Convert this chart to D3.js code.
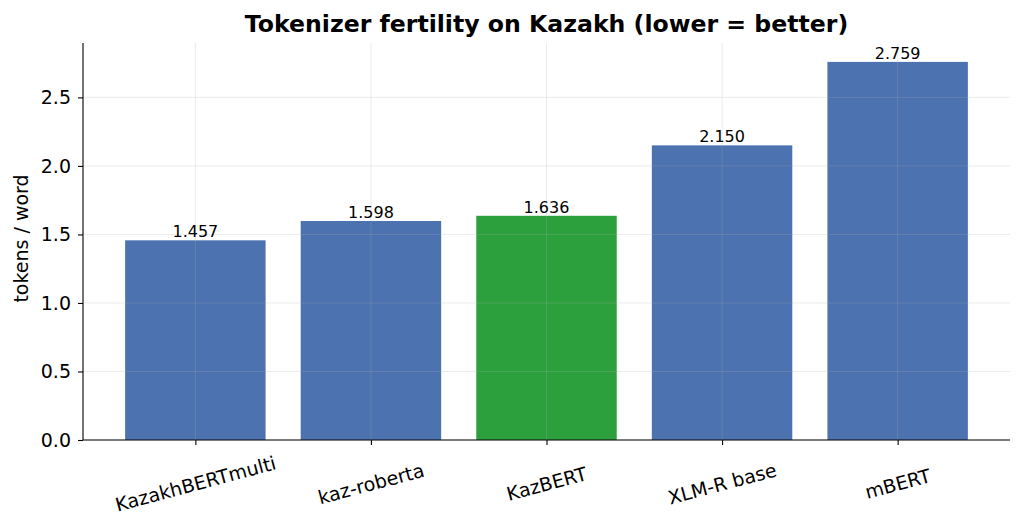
<!DOCTYPE html>
<html><head><meta charset="utf-8">
<script src="https://cdn.jsdelivr.net/npm/d3@7"></script>
<style>body{margin:0;background:#fff}svg{display:block;font-family:"DejaVu Sans",sans-serif}</style>
</head><body>
<svg id="c" width="1023" height="529"></svg>
<script>
const categories = ["KazakhBERTmulti","kaz-roberta","KazBERT","XLM-R base","mBERT"];
const values = [1.457,1.598,1.636,2.150,2.759];
const labels = ["1.457","1.598","1.636","2.150","2.759"];
const highlight = ["KazBERT"];
const yTicks = [0,0.5,1.0,1.5,2.0,2.5];

const svg = d3.select("#c");
const L=83,R=1010,T=43,B=440;
const x = d3.scaleLinear().domain([-0.64,categories.length-1+0.64]).range([L,R]);
const y = d3.scaleLinear().domain([0,d3.max(values)*1.05]).range([B,T]);
const bw = x(0.8)-x(0);

// bars
svg.append("g").selectAll("rect").data(categories).join("rect")
  .attr("x",(d,i)=>x(i)-bw/2).attr("width",bw)
  .attr("y",(d,i)=>y(values[i])).attr("height",(d,i)=>y(0)-y(values[i]))
  .attr("fill",d=>highlight.includes(d)?"#2ca03c":"#4c72b0");

// grid
const grid = svg.append("g").attr("stroke","#b0b0b0").attr("stroke-opacity",0.3).attr("stroke-width",0.8);
grid.selectAll(".h").data(yTicks).join("line").attr("x1",L).attr("x2",R)
  .attr("y1",d=>y(d)).attr("y2",d=>y(d));
grid.selectAll(".v").data(categories).join("line").attr("y1",T).attr("y2",B)
  .attr("x1",(d,i)=>x(i)).attr("x2",(d,i)=>x(i));

// value labels
svg.append("g").selectAll("text").data(labels).join("text")
  .attr("x",(d,i)=>x(i)).attr("y",(d,i)=>y(values[i])-3)
  .attr("text-anchor","middle").attr("font-size",16).attr("fill","#000").text(d=>d);

// y axis
const ya = svg.append("g").attr("transform",`translate(${L},0)`)
  .call(d3.axisLeft(y).tickValues(yTicks).tickFormat(d3.format(".1f")).tickSizeOuter(0).tickSize(5).tickPadding(7));
ya.select(".domain").attr("d",`M0,${T}V${B}`);
ya.selectAll("text").attr("font-size",19).attr("font-family","DejaVu Sans").attr("fill","#000");

// x axis
const xa = svg.append("g").attr("transform",`translate(0,${B})`)
  .call(d3.axisBottom(x).tickValues(d3.range(categories.length)).tickFormat(i=>categories[i]).tickSizeOuter(0).tickSize(5));
xa.select(".domain").attr("d",`M${L},0H${R}`);
xa.selectAll("text").attr("font-size",19).attr("font-family","DejaVu Sans").attr("fill","#000")
  .attr("text-anchor","middle").attr("dy",null).attr("y",null)
  .attr("transform","translate(0,45) rotate(-15)").attr("dominant-baseline","middle");
svg.selectAll(".domain").attr("stroke","#000").attr("stroke-width",1.1);
svg.selectAll(".tick line").attr("stroke","#000").attr("stroke-width",1.1);

// labels
svg.append("text").attr("x",(L+R)/2).attr("y",32).attr("text-anchor","middle")
  .attr("font-size",23.6).attr("font-weight","bold").text("Tokenizer fertility on Kazakh (lower = better)");
svg.append("text").attr("transform",`translate(28,238.5) rotate(-90)`).attr("text-anchor","middle")
  .attr("font-size",19).text("tokens / word");
</script>
</body></html>
